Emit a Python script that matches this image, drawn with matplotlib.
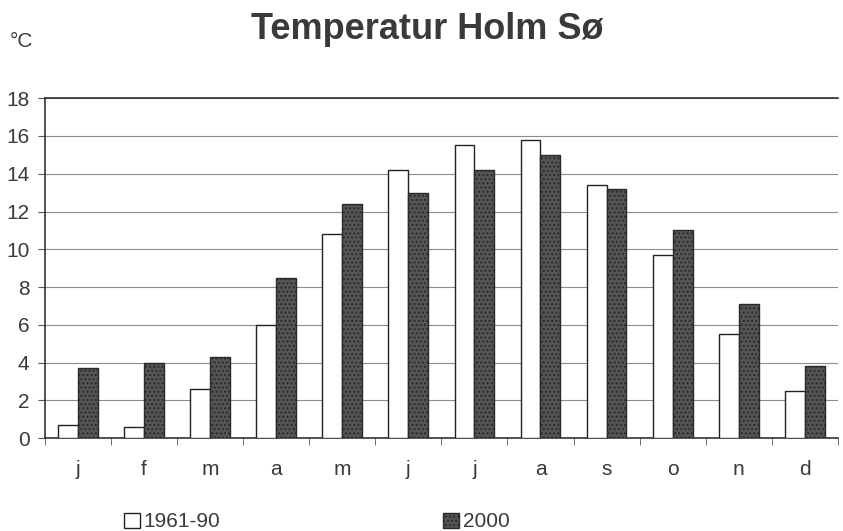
import matplotlib.pyplot as plt
import numpy as np

months = ["j", "f", "m", "a", "m", "j", "j", "a", "s", "o", "n", "d"]
normal_1961_90 = [0.7, 0.6, 2.6, 6.0, 10.8, 14.2, 15.5, 15.8, 13.4, 9.7, 5.5, 2.5]
year_2000 = [3.7, 4.0, 4.3, 8.5, 12.4, 13.0, 14.2, 15.0, 13.2, 11.0, 7.1, 3.8]

plt.rcParams["font.family"] = ["Liberation Sans", "DejaVu Sans"]
plt.rcParams["hatch.color"] = "#8a8a8a"
txt = "#3a3a3a"

fig = plt.figure(figsize=(8.43, 5.31), dpi=100)
ax = fig.add_axes([0.053, 0.175, 0.941, 0.640])

x = np.arange(len(months))
w = 0.3
ax.bar(x - w / 2, normal_1961_90, w, facecolor="white", edgecolor="#222222",
       linewidth=1.0, label="1961-90", zorder=3)
ax.bar(x + w / 2, year_2000, w, facecolor="#555555", edgecolor="#2a2a2a",
       linewidth=1.0, hatch="....", label="2000", zorder=3)

ax.set_xlim(-0.5, len(months) - 0.5)
ax.set_ylim(0, 18)
ax.set_yticks(range(0, 19, 2))
ax.yaxis.grid(True, color="#8c8c8c", linewidth=0.8, zorder=0)
ax.set_axisbelow(True)

ax.set_xticks(x)
ax.set_xticklabels(months)
ax.set_xticks(np.arange(-0.5, len(months)), minor=True)
ax.tick_params(axis="x", which="major", length=0, pad=16, labelsize=15, labelcolor=txt)
ax.tick_params(axis="x", which="minor", length=5, color="#555555")
ax.tick_params(axis="y", length=5, pad=6, labelsize=15, labelcolor=txt, color="#555555")

for side in ["left", "bottom", "top"]:
    ax.spines[side].set_color("#333333")
    ax.spines[side].set_linewidth(1.2)
ax.spines["right"].set_visible(False)

fig.text(0.507, 0.944, "Temperatur Holm Sø", ha="center", va="center",
         fontsize=26, fontweight="bold", color="#3a3a3a")
fig.text(0.011, 0.922, "°C", ha="left", va="center", fontsize=15, color=txt)

fig.legend(loc="center", bbox_to_anchor=(0.376, 0.017), ncol=2, frameon=False,
           fontsize=15, handlelength=0.75, handleheight=0.75, handletextpad=0.2,
           columnspacing=10.7, labelcolor=txt)

fig.savefig("out.png", dpi=100)
